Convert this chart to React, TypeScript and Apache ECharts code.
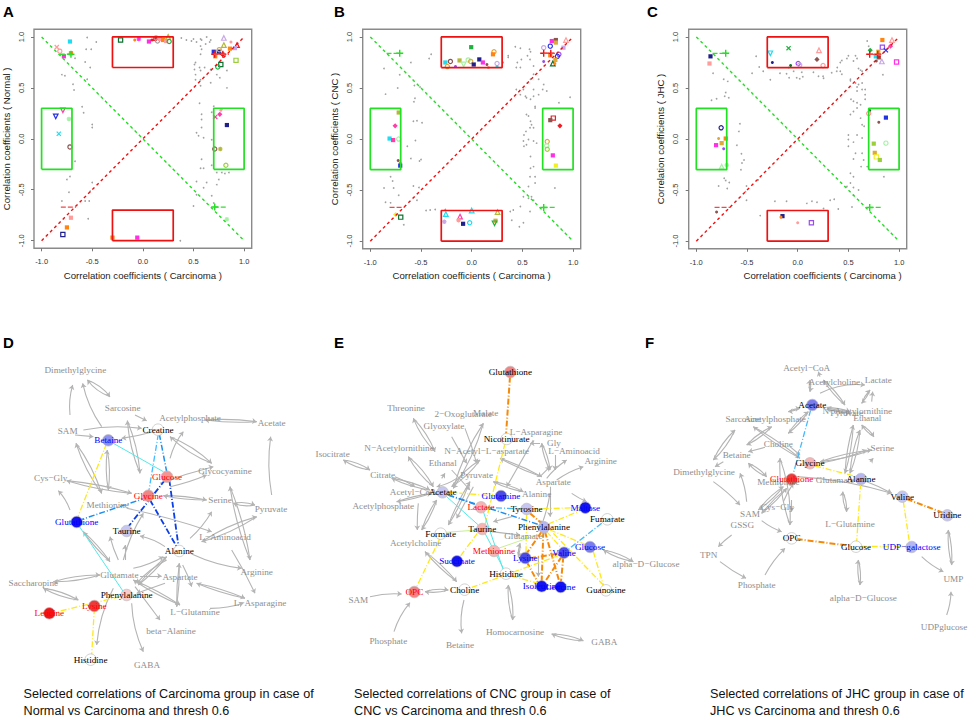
import React, { useEffect, useRef } from "react";
import * as echarts from "echarts";

// ---- tick labels ----
const tickValues = [-1, -0.5, 0, 0.5, 1];
const xAxisNames = ["Correlation coefficients ( Carcinoma )", "Correlation coefficients ( Carcinoma )", "Correlation coefficients ( Carcinoma )"];
const yAxisNames = ["Correlation coefficients ( Normal )", "Correlation coefficients ( CNC )", "Correlation coefficients ( JHC )"];
const panelLetters = ["A", "B", "C", "D", "E", "F"];
const captionsFirst = ["Selected correlations of Carcinoma group in case of", "Selected correlations of CNC group in case of", "Selected correlations of JHC group in case of"];
const captionsSecond = ["Normal vs Carcinoma and thresh 0.6", "CNC vs Carcinoma and thresh 0.6", "JHC vs Carcinoma and thresh 0.6"];

// ---- scatter: grey background points ----
const greyA = [[.38,.99],[.43,.97],[.48,.96],[.50,.98],[.53,.95],[.57,.98],[.58,.97],[.63,1],[.67,.97],[.66,.95],[.62,.93],[.57,.91],[.58,.88],[.57,.83],[.52,.75],[.51,.73],[.51,.68],[.56,.70],[.61,.70],[.52,.63],[.57,.67],[.67,.68],[.73,.63],[.83,.67],[.76,.60],[.57,.58],[.57,.52],[.52,.58],[.67,.55],[.83,.50],[.56,.35],[.70,.32],[.78,.29],[.58,.24],[.53,.06],[.58,.19],[.58,.11],[.55,.03],[.60,.01],[.68,.26],[.68,-.01],[.58,-.20],[.60,-.29],[.68,-.26],[.57,-.29],[.78,-.33],[.85,-.33],[.81,-.34],[.73,-.33],[.75,-.40],[.53,-.42],[.63,-.43],[.73,-.45],[.60,-.48],[.53,-.55],[.68,-.56],[.70,-.63],[.50,-.66],[-.55,.995],[-.46,.95],[-.56,.88],[-.51,.88],[-.57,.755],[-.52,.70],[-.80,.63],[-.77,.62],[-.55,.585],[-.69,.535],[-.68,.48],[-.60,.315],[-.585,.255],[-.50,.14],[-.50,.11],[-.67,.79],[-.67,-.22],[-.72,-.37],[-.75,-.40],[-.50,-.43],[-.73,-.525],[-.52,-.515],[-.80,-.61],[-.57,-.61],[-.53,-.61],[-.54,-.785],[.37,-1]];
const greyB = [[-.40,.83],[-.42,.79],[-.60,.75],[-.865,.69],[-.71,.63],[-.73,.50],[-.85,.44],[-.51,.51],[-.565,.525],[-.56,.40],[-.57,.365],[-.575,.175],[-.54,.18],[-.49,.16],[-.555,-.015],[-.635,-.07],[-.50,-.20],[-.515,-.215],[-.60,-.19],[-.80,-.37],[-.78,-.41],[-.865,-.48],[-.77,-.48],[-.72,-.55],[-.85,-.62],[-.80,-.625],[-.575,-.46],[-.52,-.475],[-.54,-.60],[-.67,-.84],[-.45,-.70],[-.41,-.695],[-.36,-.69],[-.26,-.69],[.43,.905],[.48,.89],[.57,.88],[.58,.855],[.55,.815],[.49,.78],[.45,.75],[.36,.80],[.36,.815],[.31,.75],[.44,.70],[.48,.70],[.575,.78],[.61,.715],[.61,.635],[.58,.585],[.55,.55],[.51,.485],[.48,.435],[.44,.485],[.53,.42],[.61,.485],[.70,.485],[.66,.435],[.61,.42],[.58,.39],[.54,.405],[.71,.535],[.66,.585],[.74,.47],[.97,.41],[.86,.355],[.625,.32],[.625,.305],[.54,.24],[.56,.225],[.58,.175],[.59,.14],[.575,.11],[.61,.11],[.535,.075],[.515,.04],[.51,-.02],[.56,-.005],[.54,-.055],[.515,-.07],[.61,-.02],[.64,-.04],[.58,-.17],[.58,-.285],[.61,-.27],[.575,-.37],[.625,-.37],[.625,-.43],[.56,-.465],[.59,-.565],[.61,-.60],[.51,-.565],[.56,-.58],[.575,-.71],[.48,-.66],[.38,-.71],[.41,-.695],[.395,-.795],[.51,-.82],[.47,-.86],[.82,-.48]];
const greyC = [[-.41,.81],[-.38,.705],[-.34,.665],[-.45,.645],[-.27,.58],[-.175,.645],[-.11,.64],[-.085,.60],[-.01,.60],[.02,.59],[.05,.61],[.04,.655],[-.04,.665],[-.09,.70],[.155,.655],[.205,.615],[.25,.615],[.255,.595],[.335,.65],[.385,.665],[.39,.70],[.42,.75],[.435,.77],[.485,.79],[.50,.815],[.57,.815],[.585,.79],[.55,.765],[.42,.665],[.435,.635],[.60,.69],[.62,.675],[.635,.665],[.52,.585],[.52,.57],[.57,.55],[.60,.535],[.635,.55],[.585,.51],[.635,.485],[.665,.485],[.685,.96],[.70,.91],[.585,.47],[.525,.39],[.55,.37],[.585,.355],[.62,.335],[.585,.305],[.55,.27],[.665,.435],[.665,.39],[.52,.24],[.62,.205],[.635,.14],[.655,.125],[.50,.04],[.585,.04],[.635,.01],[.50,-.005],[.55,-.03],[.50,-.07],[.57,-.14],[.635,-.14],[.55,-.195],[.65,-.205],[.625,-.27],[.685,-.27],[.52,-.335],[.55,-.37],[.85,-.37],[.52,-.43],[.485,-.465],[.55,-.475],[.60,-.50],[.55,-.55],[.535,-.665],[.40,-.685],[.32,-.60],[.36,-.59],[.84,.63],[-.835,.645],[-.73,.585],[-.69,.565],[-.71,.455],[-.72,.42],[-.68,.405],[-.85,.38],[-.80,.395],[-.57,.15],[-.58,.075],[-.60,-.06],[-.555,-.145],[-.53,-.205],[-.55,-.235],[-.56,-.30],[-.725,-.385],[-.71,-.405],[-.675,-.425],[-.78,-.46],[-.695,-.485],[-.505,-.46],[-.39,-.40],[-.515,-.515],[-.505,-.60],[-.37,-.75],[-.225,-.61],[-.11,-.61],[.09,-.63],[.14,-.61],[.19,-.62],[.255,-.68]];

// ---- scatter: selected points [x, y, colour key, mark key] ----
const markedA = [[-.85,.90,"salmon","x"],[-.82,.86,"salmon","o"],[-.72,.955,"cyan","s"],[-.71,.84,"orange","s"],[-.78,.81,"mag","s"],[-.22,.97,"dgreen","r"],[-.08,.97,"orange","p"],[-.04,.98,"mag","a"],[.06,.955,"mag","s"],[.09,.97,"red","p"],[.12,.98,"red","s"],[.13,.99,"grey","o"],[.145,.96,"grey","o"],[.17,.98,"salmon","s"],[.2,.97,"orange","s"],[.23,.96,"salmon","s"],[.25,1,"olive","t"],[.26,.955,"green","o"],[.80,.99,"lav","t"],[.80,.92,"olive","t"],[.87,.95,"salmon","p"],[.93,.92,"red","t"],[.91,.89,"lav","s"],[.86,.885,"orange","s"],[.70,.855,"blue","s"],[.75,.855,"navy","s"],[.755,.875,"gold","o"],[.715,.81,"orange","s"],[.79,.83,"red","a"],[.92,.77,"lime","r"],[.77,.73,"dgreen","r"],[.74,.705,"green","o"],[.76,.24,"pink","d"],[.715,.215,"pink","x"],[.77,.28,"salmon","p"],[.83,.135,"navy","s"],[.71,-.10,"brown","o"],[.765,-.10,"olive","a"],[.82,-.26,"lime","o"],[-.79,.28,"pink","v"],[-.86,.22,"blue","v"],[-.73,.195,"mint","a"],[-.83,.05,"cyan","x"],[-.72,-.08,"brown","o"],[-.71,-.775,"salmon","s"],[-.75,-.87,"orange","s"],[-.79,-.94,"navy","r"],[-.30,-.97,"orange","s"],[-.055,-.97,"mag","s"],[.83,-.79,"mint","a"]];
const markedB = [[-.005,.90,"green","s"],[.22,.855,"gold","o"],[.21,.83,"orange","s"],[-.26,.75,"cyan","s"],[-.21,.76,"brown","o"],[-.12,.77,"olive","s"],[-.035,.775,"mint","o"],[-.01,.76,"gold","o"],[-.08,.73,"mint","v"],[-.24,.71,"gold","o"],[-.16,.71,"violet","p"],[.02,.73,"navy","s"],[.075,.78,"navy","s"],[.11,.75,"mag","s"],[.15,.73,"brown","p"],[.25,.74,"lav","o"],[.25,.71,"cyan","p"],[.165,.70,"salmon","p"],[.93,.97,"salmon","t"],[.83,.97,"brown","s"],[.83,.945,"gold","s"],[.79,.96,"mag","s"],[.775,.91,"blue","o"],[.71,.895,"lav","o"],[.905,.895,"lav","s"],[.86,.83,"violet","o"],[.845,.81,"blue","o"],[.775,.82,"orange","s"],[.71,.76,"violet","p"],[.825,.775,"gold","s"],[.80,.74,"dgreen","t"],[.82,.74,"orange","p"],[-.72,.26,"olive","s"],[-.755,.13,"pink","d"],[-.81,.005,"cyan","s"],[-.775,-.01,"pink","s"],[-.72,0,"mint","o"],[-.725,-.21,"brown","p"],[-.705,-.235,"orange","p"],[-.705,-.26,"blue","s"],[.805,.205,"red","r"],[.775,.185,"brown","s"],[.87,.13,"red","d"],[.745,-.025,"gold","o"],[.74,-.065,"mint","o"],[.745,-.10,"lime","o"],[.80,-.16,"mag","s"],[.83,-.26,"yellow","s"],[-.75,-.74,"yellow","d"],[-.70,-.765,"dgreen","r"],[-.255,-.735,"cyan","t"],[0,-.70,"cyan","t"],[.255,-.715,"olive","t"],[-.115,-.76,"pink","t"],[-.13,-.795,"salmon","a"],[-.27,-.81,"lav","a"],[-.085,-.83,"navy","s"],[-.02,-.82,"cyan","o"],[.235,-.80,"gold","s"],[.225,-.825,"green","v"]];
const markedC = [[-.27,.84,"cyan","v"],[-.09,.89,"green","x"],[.21,.87,"salmon","t"],[.19,.78,"brown","d"],[.25,.72,"salmon","o"],[-.25,.75,"navy","p"],[-.07,.72,"dgreen","p"],[.005,.74,"violet","o"],[.02,.725,"lav","o"],[-.86,.81,"navy","s"],[-.87,.74,"salmon","s"],[.835,.97,"orange","s"],[.93,.97,"salmon","t"],[.835,.90,"violet","r"],[.915,.91,"pink","d"],[.87,.87,"blue","x"],[.715,.87,"green","d"],[.795,.855,"gold","s"],[.77,.81,"cyan","s"],[.80,.80,"brown","s"],[.775,.765,"brown","p"],[.83,.76,"lav","t"],[.975,.755,"mag","r"],[.71,.28,"dgreen","p"],[.70,.25,"salmon","o"],[.87,.21,"blue","s"],[.80,.165,"brown","p"],[.75,-.045,"lime","s"],[.87,-.04,"mint","o"],[.76,-.135,"gold","s"],[.775,-.175,"yellow","r"],[.81,-.205,"lime","s"],[-.755,.11,"navy","o"],[-.71,.005,"orange","s"],[-.78,.005,"gold","p"],[-.75,-.04,"gold","s"],[-.805,-.06,"mag","s"],[-.73,-.095,"violet","p"],[-.75,-.27,"mint","t"],[-.70,-.255,"mint","a"],[-.80,-.715,"brown","p"],[-.15,-.755,"navy","s"],[-.165,-.765,"orange","p"],[0,-.82,"salmon","p"],[.135,-.82,"violet","r"]];

// ---- scatter: reference shapes ----
const diagonalUp = [[-1,-1],[1,1]];
const diagonalDown = [[-1,1],[1,-1]];
const redBoxes = [[[-.3,.7],[.3,.7],[.3,1],[-.3,1],[-.3,.7]],[[-.3,-1],[.3,-1],[.3,-.7],[-.3,-.7],[-.3,-1]]];
const greenBoxes = [[[-1,-.3],[-.7,-.3],[-.7,.3],[-1,.3],[-1,-.3]],[[.7,-.3],[1,-.3],[1,.3],[.7,.3],[.7,-.3]]];
const redDashes = [
  [[[-.81,-.67],[-.66,-.67]],[[.70,.83],[.85,.83]]],
  [[[-.81,-.67],[-.66,-.67]],[[.71,.84],[.82,.84]]],
  [[[-.82,-.67],[-.66,-.67]],[[.71,.83],[.82,.83]]],
];
const greenDashes = [
  [[[-.82,.83],[-.69,.83]],[[.70,-.67],[.82,-.67]]],
  [[[-.84,.84],[-.70,.84]],[[.70,-.67],[.82,-.67]]],
  [[[-.84,.84],[-.70,.84]],[[.70,-.67],[.82,-.67]]],
];
const redPlus = [[[.71,.83],[.79,.83]],[[.71,.84],[.78,.84]],[[.71,.83],[.79,.83]]];
const greenPlus = [[[-.71,.83],[.71,-.67]],[[-.71,.84],[.71,-.67]],[[-.71,.84],[.71,-.67]]];

// ---- networks: nodes [label, x, y, text key, fill key] in layout units ----
const nodesD = [
  ["Dimethylglycine",226,119,"grey",""],["Sarcosine",368,233,"grey",""],["Acetylphosphate",570,265,"grey",""],["Acetate",815,278,"grey",""],["SAM",203,303,"grey",""],["Glycocyamine",675,424,"grey",""],["Cys\u2212Gly",152,443,"grey",""],["Serine",660,511,"grey",""],["Pyruvate",813,538,"grey",""],["Methionine",323,526,"grey",""],["L\u2212Aminoacid",675,622,"grey",""],["Glutamate",358,735,"grey",""],["Aspartate",540,740,"grey",""],["Arginine",770,727,"grey",""],["Saccharopine",100,759,"grey",""],["L\u2212Asparagine",780,819,"grey",""],["L\u2212Glutamine",585,845,"grey",""],["beta\u2212Alanine",513,902,"grey",""],["GABA",441,1006,"grey",""],
  ["Creatine",474,299,"black","none"],["Betaine",325,331,"blue","b5"],["Glucose",501,440,"red","r5"],["Glycine",445,497,"red","r6"],["Glutathione",230,576,"blue","b9"],["Taurine",380,603,"black","b3"],["Alanine",538,663,"black","none"],["Phenylalanine",380,795,"black","r3"],["Lysine",283,828,"red","r8"],["Leucine",148,850,"red","r9"],["Histidine",272,989,"black","none"],
];
const nodesE = [
  ["Threonine",258,233,"grey",""],["2\u2212Oxoglutarate",430,253,"grey",""],["Malate",497,248,"grey",""],["L\u2212Asparagine",648,305,"grey",""],["Glyoxylate",372,287,"grey",""],["N\u2212Acetylornithine",237,353,"grey",""],["N\u2212Acetyl\u2212L\u2212aspartate",500,363,"grey",""],["Gly",702,338,"grey",""],["L\u2212Aminoacid",762,362,"grey",""],["Isocitrate",38,372,"grey",""],["Arginine",842,392,"grey",""],["Ethanal",368,398,"grey",""],["Citrate",188,434,"grey",""],["Pyruvate",470,436,"grey",""],["Aspartate",700,455,"grey",""],["Acetyl\u2212CoA",280,485,"grey",""],["Alanine",650,492,"grey",""],["Acetylphosphate",190,527,"grey",""],["Glutamate",610,618,"grey",""],["Acetylcholine",287,638,"grey",""],["alpha\u2212D\u2212Glucose",978,703,"grey",""],["SAM",115,810,"grey",""],["Phosphate",205,934,"grey",""],["Betaine",420,945,"grey",""],["Homocarnosine",585,906,"grey",""],["GABA",853,935,"grey",""],
  ["Glutathione",571,126,"black","r6"],["Nicotinurate",560,327,"black","none"],["Acetate",368,487,"black","b3"],["Glutamine",543,498,"blue","b7"],["Lactate",483,532,"red","r4"],["Tyrosine",620,537,"black","b3"],["Maltose",796,533,"blue","b9"],["Fumarate",862,568,"black","none"],["Phenylalanine",672,592,"black","b4"],["Taurine",487,597,"black","r4"],["Formate",362,611,"black","none"],["Methionine",522,663,"red","r4"],["Lysine",616,684,"blue","b7"],["Valine",732,668,"blue","b7"],["Glucose",810,651,"blue","b6"],["Succinate",411,694,"blue","b9"],["Histidine",558,731,"black","none"],["Isoleucine",665,769,"blue","b9"],["Leucine",722,771,"blue","b9"],["Choline",434,779,"black","none"],["OPC",283,786,"red","r6"],["Guanosine",858,781,"black","none"],
];
const nodesF = [
  ["Acetyl\u2212CoA",470,114,"grey",""],["Acetylcholine",553,156,"grey",""],["Lactate",685,149,"grey",""],["N\u2212Acetylornithine",622,242,"grey",""],["Pyruvate",590,250,"grey",""],["Ethanal",652,264,"grey",""],["Sarcosine",280,267,"grey",""],["Acetylphosphate",375,267,"grey",""],["Choline",385,342,"grey",""],["Serine",697,355,"grey",""],["Betaine",260,375,"grey",""],["Dimethylglycine",162,426,"grey",""],["Methionine",385,456,"grey",""],["Glutamate",555,450,"grey",""],["Cys\u2212Gly",382,531,"grey",""],["SAM",300,553,"grey",""],["GSSG",277,586,"grey",""],["L\u2212Glutamine",600,581,"grey",""],["TPN",176,675,"grey",""],["Phosphate",320,764,"grey",""],["alpha\u2212D\u2212Glucose",640,805,"grey",""],["UMP",910,747,"grey",""],["UDPglucose",882,891,"grey",""],
  ["Acetate",487,225,"black","b6"],["Glycine",480,400,"black","r4"],["Glutathione",425,448,"red","r8"],["Alanine",633,447,"black","b4"],["Valine",757,500,"black","b3"],["Uridine",892,556,"black","b3"],["OPC",425,625,"black","none"],["Glucose",618,650,"black","none"],["UDP\u2212galactose",785,651,"blue","b4"],
];

// ---- networks: grey arrows [x1, y1, x2, y2, bend, both ways] ----
const arrowsD = [[210,255,218,165,.1,0],[305,290,248,160,.1,0],[330,200,262,150,.15,1],[405,255,440,272,0,0],[250,300,425,295,.08,0],[225,315,280,320,0,0],[460,305,365,325,.03,0],[615,270,770,275,.05,1],[510,385,550,305,.1,0],[510,320,635,400,.1,1],[382,272,420,430,.08,1],[228,340,305,490,.08,1],[322,360,325,480,.08,1],[200,452,395,490,.05,1],[210,540,175,482,-.1,0],[510,470,620,435,-.05,0],[490,497,620,510,.05,1],[700,520,765,525,.15,1],[815,495,812,320,.08,0],[690,470,750,690,.06,1],[570,625,635,545,-.08,0],[605,635,770,560,.08,1],[380,535,635,605,.03,0],[495,650,420,618,-.1,0],[575,672,725,715,-.08,0],[695,660,765,790,.03,0],[400,715,490,680,-.08,0],[355,690,330,620,.05,0],[375,690,375,645,0,0],[370,690,430,550,.08,0],[500,680,415,765,.06,1],[548,705,575,770,.05,0],[530,830,538,700,.04,1],[300,735,160,755,.08,1],[130,775,235,810,.1,1],[250,605,330,695,.06,1],[590,760,735,805,.05,1],[400,750,540,825,.05,1],[420,738,485,738,0,0],[395,820,430,965,-.1,0],[340,775,290,945,-.1,0],[405,770,480,870,0,0],[630,835,730,820,-.08,0],[495,760,410,790,0,0],[480,460,640,410,.03,0],[500,690,410,760,-.1,0]];
const arrowsE = [[70,390,150,420,.12,1],[215,445,330,480,.08,1],[225,440,285,470,.05,0],[280,265,345,365,.1,1],[265,380,340,470,.1,1],[395,320,440,400,0,0],[400,475,490,280,.08,1],[435,295,470,400,.03,0],[395,470,480,390,.1,1],[365,445,375,430,0,0],[395,420,450,480,0,0],[450,455,385,585,.05,1],[460,470,410,565,0,0],[230,515,335,490,.05,1],[295,520,292,600,-.03,0],[350,510,305,600,.08,1],[315,665,410,755,.06,1],[385,780,315,785,.12,1],[150,800,245,792,.08,0],[222,905,270,818,.1,0],[432,810,425,910,-.1,0],[565,765,578,870,.1,1],[695,912,790,932,.1,1],[850,660,940,695,.1,1],[665,340,690,420,.1,1],[660,440,690,410,0,0],[705,375,705,420,0,0],[710,450,790,410,.08,0],[680,445,740,390,.08,0],[640,330,560,470,0,0],[660,340,630,340,0,0],[540,385,665,440,.05,1],[520,455,610,485,.08,1],[690,490,665,585,.05,0],[690,470,690,560,0,0],[755,490,800,515,-.05,0],[575,560,520,575,0,0],[600,640,595,680,.1,1],[655,680,655,740,0,0],[515,605,600,615,0,0],[410,445,350,470,.1,0]];
const arrowsF = [[510,140,505,125,0,0],[480,185,480,150,.12,1],[520,150,585,225,.08,1],[510,190,645,165,.15,0],[635,220,660,180,.1,1],[665,215,668,185,0,0],[415,245,450,235,.1,1],[475,245,415,310,.08,1],[530,232,600,245,.08,1],[530,238,600,250,-.05,1],[310,290,450,385,.05,1],[365,290,290,345,.1,1],[345,352,295,365,0,0],[420,350,450,375,0,0],[295,400,350,440,.12,1],[220,395,195,410,0,0],[190,390,255,300,.1,1],[190,455,270,525,.05,0],[290,515,270,430,-.08,0],[325,540,400,470,.08,1],[335,550,410,475,-.06,1],[390,385,420,585,.1,1],[400,515,430,460,.05,0],[425,510,425,545,0,0],[335,572,395,605,-.08,0],[245,615,205,650,-.05,0],[210,695,288,745,-.05,0],[345,735,405,655,.08,0],[510,395,665,360,.06,1],[510,400,650,360,-.05,0],[585,430,610,285,.06,1],[600,430,630,300,.08,1],[635,285,672,320,.12,1],[660,395,670,385,0,0],[578,485,590,545,.12,1],[440,440,725,490,.06,0],[650,455,725,490,.05,0],[625,690,630,765,.1,1],[895,600,905,705,.08,1],[815,680,880,725,-.08,0],[890,855,903,785,-.08,0]];

// ---- networks: highlighted links [x1, y1, x2, y2, style key] ----
const linksD = [[320,340,230,570,"yellow"],[340,340,490,425,"cyan"],[475,312,447,480,"sky"],[478,312,500,425,"azure"],[495,450,385,590,"blue"],[508,450,535,645,"blue"],[450,510,530,650,"blue"],[440,503,240,570,"azure"],[235,585,370,785,"cyan"],[360,800,160,848,"yellow"],[283,835,275,975,"yellow"]];
const linksE = [[570,140,558,315,"orange"],[555,340,495,585,"yellow"],[385,487,530,498,"yellow"],[385,495,470,525,"azure"],[385,495,660,585,"azure"],[380,500,475,585,"cyan"],[495,532,605,537,"sky"],[490,545,550,720,"cyan"],[495,610,550,715,"cyan"],[635,537,780,533,"yellow"],[630,550,665,580,"orange"],[620,550,618,670,"yellow"],[685,582,785,540,"yellow"],[665,605,620,670,"orange"],[670,605,665,755,"orange"],[675,605,718,755,"orange"],[680,605,725,655,"yellow"],[690,600,800,645,"yellow"],[700,610,850,765,"yellow"],[845,580,745,658,"sky"],[630,685,720,670,"orange"],[620,695,655,760,"orange"],[725,680,675,755,"orange"],[730,680,723,755,"orange"],[720,675,448,775,"yellow"],[820,665,850,765,"yellow"],[378,607,472,600,"green"],[472,610,420,680,"yellow"],[360,625,290,770,"yellow"],[575,738,655,760,"yellow"],[535,655,650,615,"green"]];
const linksF = [[482,240,430,430,"sky"],[495,408,620,440,"yellow"],[632,460,620,635,"yellow"],[760,515,778,635,"yellow"],[770,507,878,548,"orange"],[440,627,605,648,"orange"],[632,650,765,650,"yellow"]];

// ---- palettes and styles ----
const MARK_COLORS: any = { red:"#ee1c25", salmon:"#ff9c9c", pink:"#ff3fa8", mag:"#ff2fe6", cyan:"#1fdcf0", blue:"#2433e0", navy:"#20208c", green:"#20b040", dgreen:"#0e7030", lime:"#9bcf3a", olive:"#b4b83a", orange:"#ff8410", gold:"#dca93a", yellow:"#f2f020", violet:"#9a4cf0", lav:"#c8a8e8", brown:"#8a5550", mint:"#a8f0a8", grey:"#a0a0a0" };
const NODE_FILLS: any = { none:"#ffffff", b3:"#c6c6f2", b4:"#b6b6f0", b5:"#9090f0", b6:"#7c7cec", b7:"#4a4ae4", b9:"#1414ee", r3:"#f8cccc", r4:"#f6b4b4", r5:"#f59494", r6:"#f28484", r8:"#ef3a3a", r9:"#f21414" };
const TEXT_COLORS: any = { grey:"#8e8e8e", black:"#000000", red:"#ff0000", blue:"#0000ff" };
const DASH_DOT = [6, 2, 1, 2];
const LINK_STYLES: any = {
  yellow:{ color:"#ffe81a", width:1.3, type:DASH_DOT }, cyan:{ color:"#4feaea", width:1, type:"solid" },
  sky:{ color:"#44bbff", width:1.3, type:DASH_DOT }, azure:{ color:"#1f8fee", width:1.5, type:DASH_DOT },
  blue:{ color:"#0a3ee8", width:1.8, type:DASH_DOT }, orange:{ color:"#f58a0a", width:2, type:DASH_DOT },
  green:{ color:"#c8f090", width:1, type:"solid" },
};
const CROSS = "path://M0 0L10 10M10 0L0 10";
const PLUS = "path://M5 0L5 10M0 5L10 5";
const ASTER = "path://M5 0L5 10M0 5L10 5M1.5 1.5L8.5 8.5M8.5 1.5L1.5 8.5";

function markItem(m: any[]) {
  const [x, y, ck, kind] = m;
  const c = MARK_COLORS[ck];
  const filled = { color: c, borderWidth: 0, opacity: 1 };
  const open = { color: "none", borderColor: c, borderWidth: 1.2, opacity: 1 };
  const base: any = { value: [x, y] };
  if (kind === "s") return { ...base, symbol: "rect", symbolSize: 4.2, itemStyle: filled };
  if (kind === "p") return { ...base, symbol: "circle", symbolSize: 3, itemStyle: filled };
  if (kind === "r") return { ...base, symbol: "rect", symbolSize: 4.2, itemStyle: open };
  if (kind === "o") return { ...base, symbol: "circle", symbolSize: 4.2, itemStyle: open };
  if (kind === "d") return { ...base, symbol: "diamond", symbolSize: 5.2, itemStyle: filled };
  if (kind === "t") return { ...base, symbol: "triangle", symbolSize: 4.6, itemStyle: open };
  if (kind === "v") return { ...base, symbol: "triangle", symbolRotate: 180, symbolSize: 4.6, itemStyle: open };
  if (kind === "x") return { ...base, symbol: CROSS, symbolSize: 4.2, itemStyle: open };
  return { ...base, symbol: ASTER, symbolSize: 4.6, itemStyle: open };
}

const GRIDS_TOP = [
  { left: 34, top: 29.3, width: 217.7, height: 219 },
  { left: 362.7, top: 29.3, width: 218, height: 219.5 },
  { left: 688.7, top: 29.3, width: 218, height: 219.5 },
];
const GRIDS_NET = [
  { left: 0, top: 330, width: 320, height: 389, span: 960 },
  { left: 320, top: 330, width: 330, height: 389, span: 990 },
  { left: 650, top: 330, width: 320, height: 389, span: 960 },
];
const AXIS_EXTENT = 1.075;

function buildOption() {
  const grid: any[] = [];
  const xAxis: any[] = [];
  const yAxis: any[] = [];
  const series: any[] = [];

  const greys = [greyA, greyB, greyC];
  const marks = [markedA, markedB, markedC];
  const axisText = { fontFamily: "Liberation Sans", fontSize: 7.5, color: "#333" };
  const nameText = { fontFamily: "Liberation Sans", fontSize: 9.6, color: "#222" };

  GRIDS_TOP.forEach((g, i) => {
    grid.push({ ...g, show: true, borderColor: "#8a8a8a", borderWidth: 1.4, backgroundColor: "transparent" });
    xAxis.push({
      gridIndex: i, type: "value", min: -AXIS_EXTENT, max: AXIS_EXTENT, position: "bottom",
      name: xAxisNames[i], nameLocation: "middle", nameGap: 22,
      nameTextStyle: { ...nameText, padding: i === 2 ? [0, 0, 0, 50] : 0 },
      axisLine: { show: false, onZero: false }, splitLine: { show: false },
      axisTick: { show: true, length: 3, customValues: tickValues, lineStyle: { color: "#777" } },
      axisLabel: { ...axisText, margin: 9.5, customValues: tickValues, formatter: (v: number) => v.toFixed(1) },
    });
    yAxis.push({
      gridIndex: i, type: "value", min: -AXIS_EXTENT, max: AXIS_EXTENT, position: "left",
      name: yAxisNames[i], nameLocation: "middle", nameGap: 23, nameRotate: 90,
      nameTextStyle: nameText,
      axisLine: { show: false, onZero: false }, splitLine: { show: false },
      axisTick: { show: true, length: 3, customValues: tickValues, lineStyle: { color: "#777" } },
      axisLabel: { ...axisText, margin: 9, rotate: 90, customValues: tickValues, formatter: (v: number) => v.toFixed(1) },
    });
    const ax = { xAxisIndex: i, yAxisIndex: i, animation: false, silent: true };
    const lineSeries = (data: number[][], color: string, width: number, type: any) => ({
      ...ax, type: "line", data, showSymbol: false, symbol: "none", clip: false,
      lineStyle: { color, width, type },
    });
    series.push(lineSeries(diagonalUp, "#ee1111", 1.4, [3, 3]));
    series.push(lineSeries(diagonalDown, "#22dd22", 1.4, [3, 3]));
    redBoxes.forEach((b) => series.push(lineSeries(b, "#ee1111", 1.7, "solid")));
    greenBoxes.forEach((b) => series.push(lineSeries(b, "#22e022", 1.7, "solid")));
    redDashes[i].forEach((b) => series.push(lineSeries(b, "#f04848", 1.3, [5, 2])));
    greenDashes[i].forEach((b) => series.push(lineSeries(b, "#33dd33", 1.3, [5, 2])));
    series.push({ ...ax, type: "scatter", clip: false, symbol: "circle", symbolSize: 1.7, itemStyle: { color: "#a0a0a0", opacity: 1 }, data: greys[i] });
    series.push({ ...ax, type: "scatter", clip: false, data: marks[i].map(markItem) });
    series.push({ ...ax, type: "scatter", clip: false, symbol: PLUS, symbolSize: 7, itemStyle: { color: "none", borderColor: "#ee1111", borderWidth: 1.4, opacity: 1 }, data: redPlus[i] });
    series.push({ ...ax, type: "scatter", clip: false, symbol: PLUS, symbolSize: 7, itemStyle: { color: "none", borderColor: "#22dd22", borderWidth: 1.4, opacity: 1 }, data: greenPlus[i] });
  });

  const nodes = [nodesD, nodesE, nodesF];
  const arrows = [arrowsD, arrowsE, arrowsF];
  const links = [linksD, linksE, linksF];

  GRIDS_NET.forEach((g, k) => {
    const idx = k + 3;
    grid.push({ left: g.left, top: g.top, width: g.width, height: g.height, show: false });
    xAxis.push({ gridIndex: idx, type: "value", min: 0, max: g.span, show: false });
    yAxis.push({ gridIndex: idx, type: "value", min: 0, max: 1167, inverse: true, show: false });
    const ax = { coordinateSystem: "cartesian2d", xAxisIndex: idx, yAxisIndex: idx, animation: false, silent: true };
    const arrowData: any[] = [];
    arrows[k].forEach(([x1, y1, x2, y2, c, both]) => {
      arrowData.push({ coords: [[x1, y1], [x2, y2]], lineStyle: { curveness: c } });
      if (both) arrowData.push({ coords: [[x2, y2], [x1, y1]], lineStyle: { curveness: c } });
    });
    series.push({
      ...ax, type: "lines", symbol: ["none", "arrow"], symbolSize: 4.5, effect: { show: false },
      lineStyle: { color: "#b4b4b4", width: 1.1, opacity: 1 }, data: arrowData,
    });
    series.push({
      ...ax, type: "lines", symbol: "none", effect: { show: false },
      data: links[k].map(([x1, y1, x2, y2, key]: any) => ({ coords: [[x1, y1], [x2, y2]], lineStyle: { ...LINK_STYLES[key], opacity: 1, curveness: 0 } })),
    });
    series.push({
      xAxisIndex: idx, yAxisIndex: idx, animation: false, silent: true, type: "scatter", clip: false,
      data: (nodes[k] as any[]).map(([name, x, y, tk, fk]) => ({
        value: [x, y], name,
        symbol: "circle", symbolSize: fk ? 11.5 : 1,
        itemStyle: fk ? { color: NODE_FILLS[fk], borderColor: "#bdbdbd", borderWidth: 0.7, opacity: 1 } : { color: "transparent", opacity: 1 },
        label: { show: true, position: "inside", formatter: name, fontFamily: "Liberation Serif", fontSize: 9.2, color: TEXT_COLORS[tk], opacity: 1 },
      })),
    });
  });

  const graphic: any[] = [];
  const letterX = [3, 334, 647, 3, 334, 645];
  const letterY = [11, 11, 11, 342, 342, 342];
  panelLetters.forEach((t, i) => {
    graphic.push({ type: "text", x: letterX[i], y: letterY[i], style: { text: t, font: "bold 15px 'Liberation Sans'", fill: "#000", textVerticalAlign: "middle" } });
  });
  const capX = [23.5, 354, 710];
  captionsFirst.forEach((t, i) => {
    graphic.push({ type: "text", x: capX[i], y: 694, style: { text: t, font: "12.65px 'Liberation Sans'", fill: "#111", textVerticalAlign: "middle" } });
    graphic.push({ type: "text", x: capX[i], y: 711, style: { text: captionsSecond[i], font: "12.65px 'Liberation Sans'", fill: "#111", textVerticalAlign: "middle" } });
  });

  return { animation: false, backgroundColor: "#ffffff", grid, xAxis, yAxis, series, graphic };
}

export default function App() {
  const ref = useRef<HTMLDivElement>(null);
  useEffect(() => {
    const chart = echarts.init(ref.current as HTMLDivElement, undefined, { renderer: "svg" });
    chart.setOption(buildOption() as any);
    return () => chart.dispose();
  }, []);
  return <div ref={ref} style={{ position: "fixed", left: 0, top: 0, width: 970, height: 719 }} />;
}
